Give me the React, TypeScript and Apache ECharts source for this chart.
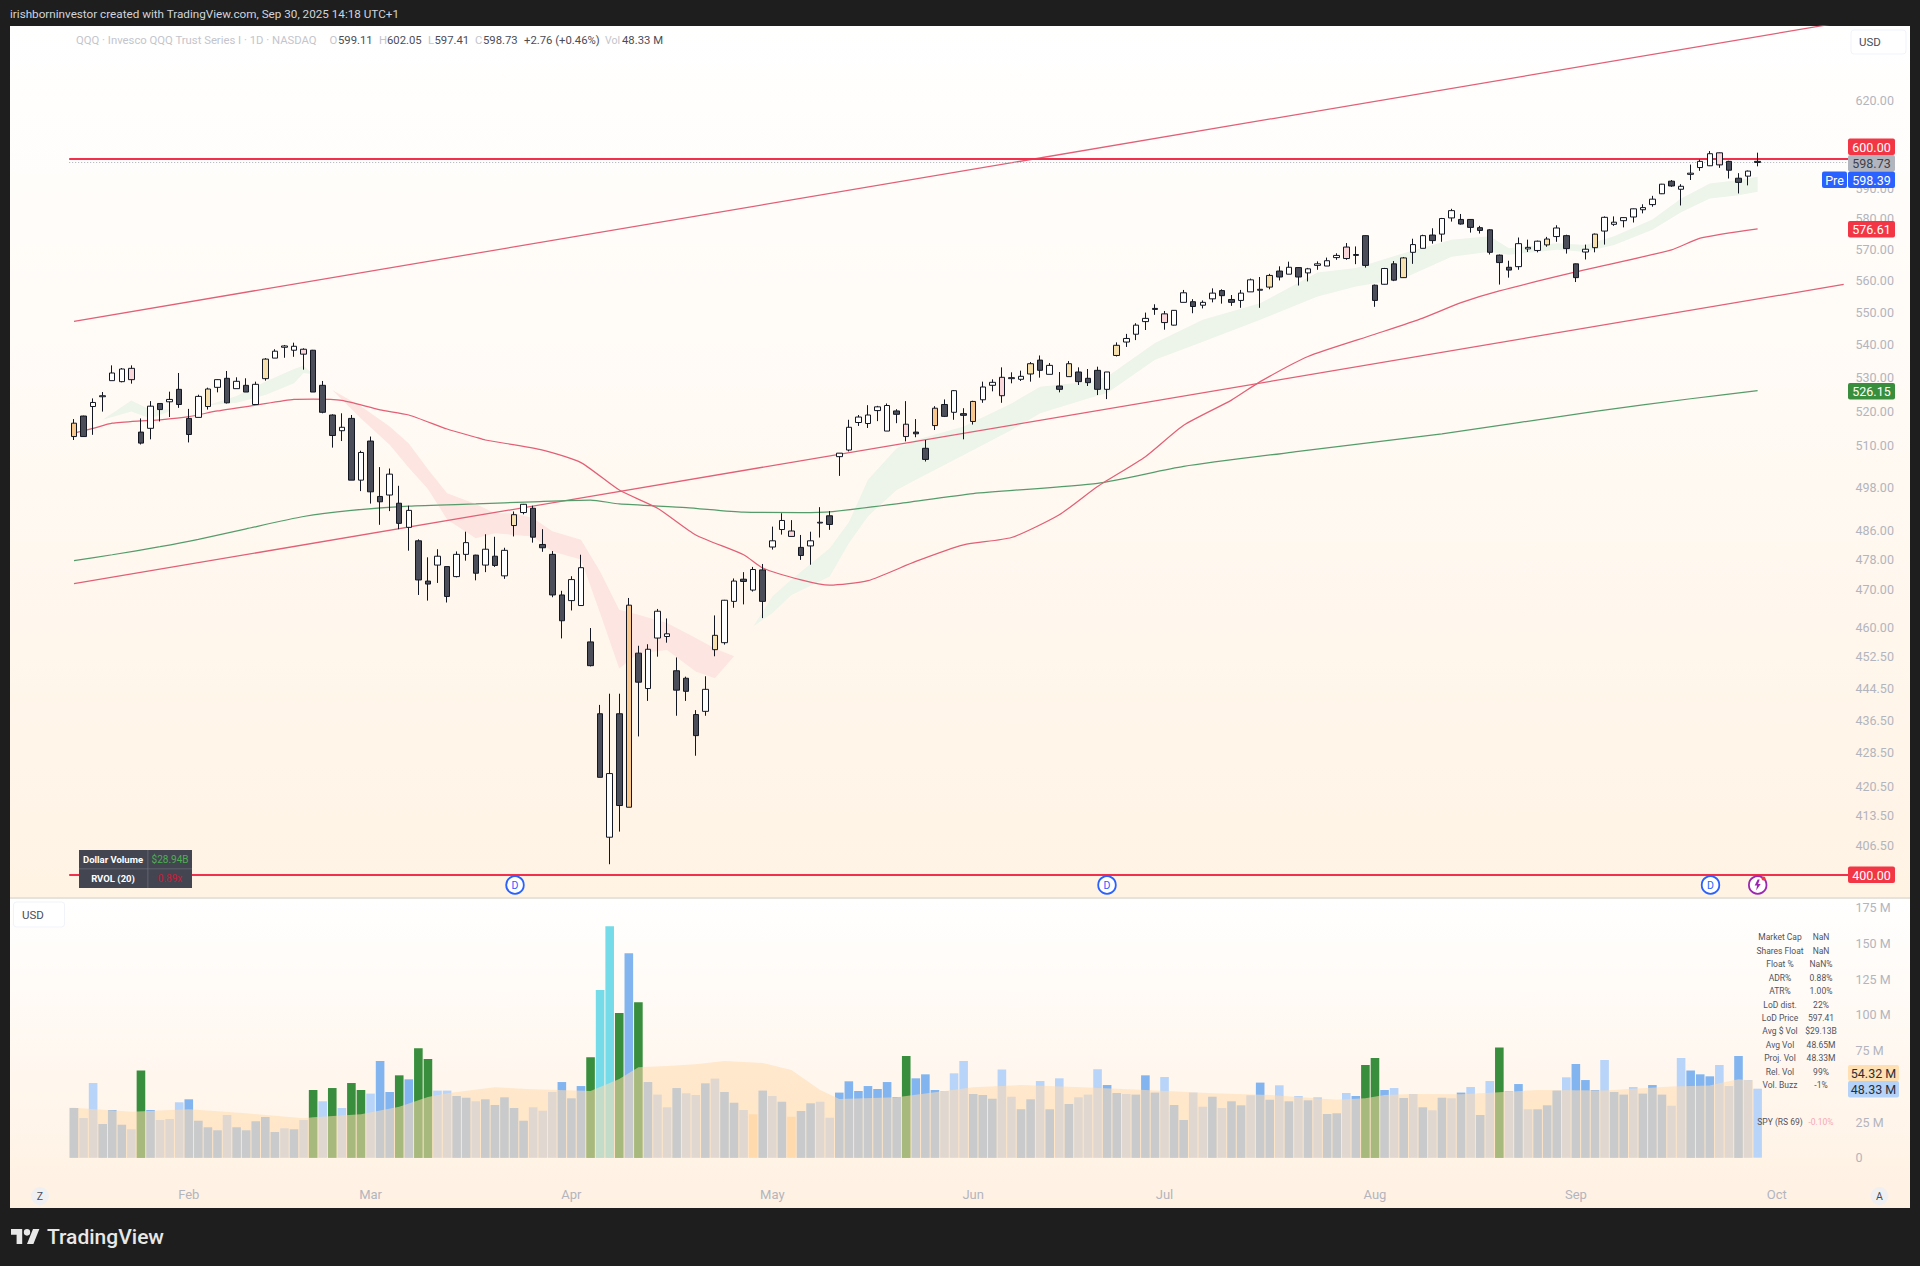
import React, { useEffect, useRef } from "react";
import * as echarts from "echarts";

const FONT = "Roboto";

const monthTicks: Record<number, string> = { 12: "Feb", 31: "Mar", 52: "Apr", 73: "May", 94: "Jun", 114: "Jul", 136: "Aug", 157: "Sep", 178: "Oct" };
const categoryCount = 186;
const categories = Array.from({ length: categoryCount }, (_, i) => String(i));

const priceTicks = [620, 590, 580, 570, 560, 550, 540, 530, 520, 510, 498, 486, 478, 470, 460, 452.5, 444.5, 436.5, 428.5, 420.5, 413.5, 406.5];
const volumeTicks = [0, 25, 75, 100, 125, 150, 175];

const opens = [512.6,518.6,521.4,524.3,529.1,528.8,529.4,513.9,515.0,522.3,
522.8,526.5,517.9,518.2,521.4,527.1,529.8,526.7,527.7,522.0,
529.7,535.9,539.2,538.3,537.1,538.3,527.7,518.9,514.3,517.9,
500.1,511.3,495.5,495.9,493.6,486.9,483.2,472.3,476.6,476.2,
473.5,479.5,479.3,476.6,479.0,473.7,487.4,491.0,492.2,482.2,
479.5,468.6,467.1,465.8,456.3,438.1,408.5,438.1,415.5,453.4,
444.4,457.3,457.7,448.9,447.0,437.9,438.7,454.3,456.1,466.9,
472.8,469.9,475.3,481.5,486.3,484.4,481.4,481.8,488.1,490.1,
506.8,508.7,516.7,516.4,520.2,514.2,520.1,512.6,513.9,509.2,
515.8,522.0,519.7,518.8,517.0,523.4,527.7,524.6,529.7,529.5,
531.1,535.3,531.0,527.5,530.3,531.7,529.8,532.2,526.5,536.7,
540.8,543.2,547.1,550.9,546.8,546.0,553.1,553.3,552.2,554.2,
556.8,554.0,553.7,556.4,556.9,557.9,563.0,562.0,564.1,562.4,
564.8,564.6,567.3,567.0,568.0,574.4,558.5,558.8,565.3,560.9,
569.0,570.3,574.6,574.9,580.2,579.7,579.7,577.0,576.3,568.1,
564.2,564.4,570.1,569.6,571.4,574.1,574.4,565.3,569.1,570.5,
575.9,578.1,579.3,580.5,582.9,584.6,588.2,592.4,589.7,594.7,
597.0,597.6,597.9,599.1,593.4,594.1,599.11];

const closes = [516.5,512.6,522.6,524.6,531.4,532.6,532.8,510.7,521.5,520.5,
523.5,522.0,513.2,524.4,526.6,529.4,522.5,528.9,525.7,528.0,
535.6,538.0,539.6,539.5,538.6,525.7,519.7,512.9,515.3,500.1,
508.0,496.8,494.0,501.8,488.0,491.6,472.6,471.5,479.0,468.2,
479.5,482.7,474.4,480.9,476.5,480.6,490.4,493.3,484.2,481.3,
468.6,461.8,472.7,475.9,450.2,422.6,423.5,415.9,465.9,446.0,
454.4,464.3,458.4,444.0,443.7,432.7,444.2,458.0,467.2,472.3,
472.2,475.4,466.9,483.2,488.8,485.9,479.2,483.2,488.3,487.7,
507.8,515.3,518.3,518.9,521.3,521.7,519.1,516.2,513.4,506.0,
520.9,518.5,526.1,519.3,522.9,527.2,528.6,530.1,530.0,530.4,
534.2,532.2,533.7,526.5,534.2,528.8,528.5,526.5,531.7,539.8,
541.9,546.0,548.1,551.2,549.5,550.6,556.1,551.8,553.1,556.0,
555.2,553.1,556.0,560.2,557.2,561.6,561.1,564.2,561.1,563.7,
565.3,566.3,568.0,570.7,568.3,564.8,553.7,563.8,560.1,567.2,
571.5,574.4,572.8,580.0,582.6,578.2,577.1,576.1,569.0,565.7,
563.3,571.8,570.6,572.6,573.3,576.9,570.2,560.9,570.0,574.9,
580.4,578.8,580.3,583.2,583.6,586.4,591.4,590.8,590.7,595.1,
599.1,601.7,602.0,596.1,592.0,595.8,598.73];

const lows = [511.6,512.6,513.1,519.9,529.1,528.6,528.2,510.3,511.8,517.0,
518.3,521.0,510.9,518.2,520.5,525.6,522.3,526.7,525.7,522.0,
529.1,535.9,536.0,536.3,532.4,525.7,519.4,509.4,511.3,500.1,
497.0,493.5,487.6,491.4,486.4,480.5,468.6,467.1,471.8,466.6,
473.3,477.8,472.5,474.7,476.1,472.9,484.4,490.5,482.7,480.2,
468.0,457.2,464.5,465.8,450.0,422.6,402.3,409.8,415.5,432.5,
441.3,452.5,456.1,437.6,441.3,427.8,437.6,452.6,455.6,465.2,
466.1,469.5,462.5,480.8,484.9,484.3,478.0,476.7,484.1,486.2,
501.3,508.3,515.7,515.1,517.1,514.2,516.5,511.2,512.4,505.4,
514.5,518.3,517.5,511.8,516.1,522.5,525.9,522.5,528.3,529.0,
528.8,530.0,531.0,525.6,530.3,527.8,527.5,524.8,523.6,536.4,
539.3,541.4,544.5,549.2,544.6,545.9,553.1,549.7,551.2,553.1,
552.7,552.0,551.4,556.4,551.4,557.2,560.0,562.0,558.4,559.7,
563.4,564.6,566.6,566.6,565.2,564.1,551.7,558.7,559.8,560.8,
565.3,570.3,571.8,572.4,579.0,578.0,575.4,575.1,568.3,558.7,
560.9,563.4,569.1,569.0,570.8,572.4,568.6,559.5,566.7,569.0,
571.5,577.6,577.1,578.7,581.7,583.9,588.1,590.5,584.3,592.8,
595.9,597.5,596.9,593.3,588.3,591.0,597.41];

const highs = [517.7,518.7,523.8,525.7,533.7,532.9,533.7,517.9,523.0,522.3,
525.8,531.4,520.7,524.9,527.0,529.5,532.0,530.1,529.8,528.8,
535.9,538.6,539.9,540.6,538.9,538.4,529.0,519.1,519.4,518.9,
508.5,512.6,503.8,503.4,498.5,492.9,483.6,478.7,480.9,476.2,
480.3,485.7,479.4,485.0,484.3,481.3,491.3,493.4,492.9,486.4,
480.4,469.7,473.6,479.4,459.9,440.3,443.1,443.1,467.8,455.3,
455.7,464.9,462.4,452.3,447.4,439.0,447.5,463.2,467.3,473.0,
474.7,476.1,476.9,487.1,490.8,488.9,484.8,485.7,492.5,491.4,
507.8,517.5,518.9,521.8,521.6,522.3,520.6,523.0,517.7,511.6,
521.5,523.5,526.3,520.9,523.1,528.8,529.5,533.1,531.6,532.1,
534.7,536.7,534.4,531.7,535.0,533.1,532.6,533.3,531.7,540.7,
543.3,546.6,549.9,552.5,550.4,550.7,557.0,554.1,553.7,557.5,
557.2,555.4,557.0,560.6,561.1,562.1,564.5,566.0,564.2,564.0,
566.1,567.3,568.7,572.0,570.9,574.5,558.7,564.0,566.2,567.5,
573.4,574.7,576.8,580.2,583.2,581.5,579.8,577.6,576.5,568.3,
566.3,573.8,573.1,572.8,574.0,577.8,574.7,565.4,571.5,575.1,
580.7,580.7,580.4,583.3,584.7,587.5,591.5,592.8,591.4,598.0,
599.7,602.6,602.1,599.3,595.1,596.0,602.05];

const candleKinds = ["ODWWWWPDWD","WDDWTWDWDW","TWWWPDDDWD","WDDWDWDDWD","WWDWDWTWDD","DDWWDDWDOD","WWWDDDWTWW","DWDWWPDWWD","WWWWWWDPDD","ODWDOWWPWW","TDWDTDDDWT","WWWDPWWDWW","DDWWWTDWDW","WWWPWDDWDT","WWDWWDDDDD","DWWWTWDDWT","WWWWWWWDWW","WWPDDWD"].join("");

const volumes = [34.8,27.8,52.3,23.6,33.4,23.1,19.9,61.0,33.4,26.4,
27.1,38.8,40.9,25.9,21.3,19.2,29.9,21.3,19.2,25.5,
28.5,18.0,20.6,19.9,26.4,47.4,39.5,48.8,34.8,52.3,
47.4,44.9,67.7,46.0,57.7,54.9,76.6,69.1,47.0,47.0,
43.2,42.0,39.5,40.9,36.9,42.3,34.8,25.9,35.3,32.9,
46.0,53.0,41.6,50.2,70.3,117.5,162.1,101.4,143.2,108.9,
53.0,44.2,35.3,48.8,45.1,43.9,52.1,55.4,46.0,38.5,
33.4,30.4,47.0,43.2,39.2,28.7,32.7,38.1,39.2,28.0,
45.6,53.5,46.7,50.2,48.1,53.0,42.5,71.2,55.6,58.4,
47.4,46.7,59.1,67.7,44.6,43.9,41.3,61.7,42.7,33.9,
40.9,53.7,33.9,55.6,37.6,42.3,44.2,61.9,50.9,45.3,
44.6,44.2,57.7,45.6,56.5,36.9,26.4,45.6,35.7,42.7,
34.8,39.5,36.7,43.7,52.6,40.6,50.7,39.5,43.2,40.2,
42.3,30.6,31.1,45.3,43.2,64.9,69.8,47.4,48.8,41.8,
44.6,35.3,33.2,42.0,41.6,45.6,49.5,29.9,53.7,77.1,
46.7,51.6,33.9,33.9,36.7,47.0,56.3,65.6,54.4,47.4,
68.4,46.0,44.2,49.5,44.9,50.9,44.2,36.4,69.8,61.0,
58.4,57.0,64.9,50.2,71.2,54.4,48.33];

const volumeKinds = ["BLLBBBLGBL","LLBBBBLBBB","BBLBLGLGLG","GLBBGBGGLL","BBLBBBBBLL","LBBBGCCGBG","BLLBLLBLBB","LOBLBOBBLL","BBBBBBBGBB","BLLLBBBLLB","BLBLBLLLBB","LBBBLBBLLB","LBBLBBLBLB","LBBLBGGBLB","LBLBLBLBLG","LBLBBBLBBB","LBBLBBBLLB","BBLLBLL"].join("");

const volMaIdx = [0,6,12,18,24,25,30,34,37,39,44,48,54,57,59,62,65,68,72,75,78,80,86,91,94,99,106,112,119,125,132,135,137,140,145,149,153,160,167,171,172,174,175];
const volMaVals = [35.0,32.2,33.9,31.1,27.6,28.3,30.4,35.7,42.5,45.1,49.3,47.9,46.7,55.1,63.3,64.2,65.4,67.7,66.3,61.4,47.4,41.1,42.3,46.7,49.3,50.9,49.1,47.4,45.1,43.9,40.6,41.6,43.9,44.6,44.4,45.8,47.4,47.0,49.8,50.5,52.1,54.9,54.32];

const redMaPoints = [[0,513.6],[2,515.0],[4,516.5],[7,517.2],[9,517.5],[12,518.4],[15,520.1],[19,521.8],[23,523.5],[25,523.6],[28,523.2],[32,520.4],[35,518.9],[39,514.8],[42,512.4],[43,511.6],[49,508.7],[53,505.1],[57,497.3],[61,492.2],[65,484.8],[70,479.4],[72,475.8],[76,472.6],[79,471.2],[83,472.4],[88,477.6],[93,482.1],[98,484.1],[103,490.4],[107,498.3],[112,506.8],[116,515.9],[121,523.3],[124,528.8],[129,536.4],[136,543.2],[141,548.2],[145,553.0],[149,556.7],[157,562.7],[167,569.8],[170,573.6],[176,576.61]];

const greenMaPoints = [[0,477.8],[4,479.4],[9,481.6],[13,483.6],[18,486.5],[24,489.9],[29,491.6],[35,492.8],[42,493.4],[48,494.0],[54,494.5],[57,493.4],[64,492.4],[70,491.1],[76,491.0],[79,491.2],[86,493.4],[94,496.3],[107,499.2],[116,504.0],[128,508.3],[143,513.4],[159,520.0],[169,523.7],[176,526.15]];

const trendHigh = [[0,547.2],[185,648.3]];
const trendLow = [[0,471.6],[185,558.75]];

// [bar, lower, upper]
const ribbonGreenA = [[3,517.5,517.5],[6,519.9,523.2],[8,517.9,520.4],[10,520.0,520.5]];
const ribbonGreenB = [[14,521.8,521.8],[17,522.5,524.5],[20,524.8,528.8],[23,528.3,532.6],[24,531.4,533.6],[25,531.0,531.0]];
const ribbonRed = [[27,526.3,526.3],[30,517.9,521.5],[33,510.2,515.5],[35,503.6,510.6],[37,497.6,503.2],[39,489.1,496.4],[42,483.9,493.4],[44,485.3,490.8],[46,484.8,490.8],[48,484.4,489.4],[50,480.3,485.8],[53,478.1,483.5],[55,463.8,474.9],[57,449.5,464.7],[59,453.4,463.4],[62,454.2,461.2],[65,448.7,457.3],[67,447.0,454.6],[69,452.6,452.6]];
const ribbonGreenC = [[69,452.6,452.6],[71,460.3,460.3],[73,463.8,468.2],[75,468.6,472.7],[79,473.5,481.2],[81,482.5,488.3],[83,490.0,500.2],[86,497.3,509.2],[88,500.2,511.6],[93,507.3,515.5],[98,514.5,522.3],[101,519.4,527.3],[106,523.8,528.8],[108,525.4,530.3],[113,535.4,540.5],[118,540.9,547.7],[124,547.7,552.8],[130,554.9,562.5],[134,558.1,564.0],[139,560.7,568.7],[144,567.6,573.1],[148,569.2,574.2],[150,568.2,570.3],[155,569.8,571.9],[158,569.2,571.4],[161,571.4,574.2],[165,576.3,579.7],[168,582.1,586.6],[171,586.6,591.6],[174,587.7,592.8],[176,588.9,593.9]];

const statRows = [["Market Cap","NaN"],["Shares Float","NaN"],["Float %","NaN%"],["ADR%","0.88%"],["ATR%","1.00%"],["LoD dist.","22%"],["LoD Price","597.41"],["Avg $ Vol","$29.13B"],["Avg Vol","48.65M"],["Proj. Vol","48.33M"],["Rel. Vol","99%"],["Vol. Buzz","-1%"]];

const candleFill: Record<string, string> = { W: "#ffffff", D: "#4b4e59", O: "#f9c88f", T: "#f6e0ae", P: "#f8d6da" };
const volumeFill: Record<string, string> = { B: "#82b5f0", L: "#b8d4f8", G: "#388e3c", C: "#76dbe8", O: "#ffd9a8" };

const LOGO = "M14 22H7V11H0V4h14v18zM28 22h-8l7.5-18h8L28 22zM24 8a4 4 0 1 1-8 0 4 4 0 0 1 8 0z";
const BOLT = "M3 0L0 6h2.4L1.4 11 6 4.4H3.4L5 0z";
echarts.graphic.registerShape("tvlogo", (echarts.graphic as any).extendPath(LOGO, {}));
echarts.graphic.registerShape("bolt", (echarts.graphic as any).extendPath(BOLT, {}));

const text = (x: number, y: number, t: string, fill: string, size: number, extra: any = {}) => ({
  type: "text",
  x,
  y,
  z: extra.z ?? 110,
  silent: true,
  style: {
    text: t,
    fill,
    font: `${extra.weight ?? "normal"} ${size}px ${FONT}`,
    align: extra.align ?? "left",
    verticalAlign: "middle",
    textAlign: extra.align ?? "left",
    textVerticalAlign: "middle",
  },
});

const box = (x: number, y: number, w: number, h: number, fill: string, extra: any = {}) => ({
  type: "rect",
  z: extra.z ?? 100,
  silent: true,
  shape: { x, y, width: w, height: h, r: extra.r ?? 0 },
  style: { fill, stroke: extra.stroke, lineWidth: extra.lineWidth ?? 0 },
});

const tag = (y0: number, y1: number, label: string, bg: string, fg: string, x0 = 1848, x1 = 1895) => [
  box(x0, y0, x1 - x0, y1 - y0, bg, { r: 2 }),
  text((x0 + x1) / 2, (y0 + y1) / 2 + 0.5, label, fg, 12.5, { align: "center" }),
];

const ribbonRender = (points: number[][], fill: string) => (params: any, api: any) => {
  if (params.dataIndex !== 0) return undefined;
  const upper = points.map((p) => api.coord([p[0], p[2]]));
  const lower = points.map((p) => api.coord([p[0], p[1]])).reverse();
  return { type: "polygon", shape: { points: [...upper, ...lower] }, style: { fill }, silent: true };
};

const ribbonSeries = (points: number[][], fill: string) => ({
  type: "custom",
  xAxisIndex: 0,
  yAxisIndex: 0,
  z: 1,
  silent: true,
  renderItem: ribbonRender(points, fill),
  data: points.map((p) => [p[0], p[1], p[2]]),
  encode: { x: 0, y: [1, 2] },
});

const priceLine = (points: number[][], color: string, smooth = false) => ({
  type: "line",
  xAxisIndex: 0,
  yAxisIndex: 0,
  data: points,
  symbol: "none",
  smooth: smooth ? 0.2 : false,
  z: 3,
  silent: true,
  lineStyle: { color, width: 1.25 },
});

export default function App() {
  const ref = useRef<HTMLDivElement>(null);
  useEffect(() => {
    const chart = echarts.init(ref.current!, undefined, { renderer: "svg" });
    const gridLeft = 69.2;
    const gridWidth = 1779.3;

    const candleData = opens.map((o, i) => {
      const fill = candleFill[candleKinds[i]];
      return {
        value: [o, closes[i], lows[i], highs[i]],
        itemStyle: { color: fill, color0: fill, borderColor: "#131722", borderColor0: "#131722", borderWidth: 1 },
      };
    });
    const volumeData = volumes.map((v, i) => ({ value: v, itemStyle: { color: volumeFill[volumeKinds[i]] } }));

    const panelGraphics: any[] = [
      {
        type: "rect", z: -10, silent: true, shape: { x: 10, y: 26, width: 1900, height: 872 },
        style: { fill: new echarts.graphic.LinearGradient(0, 0, 0, 1, [{ offset: 0, color: "#ffffff" }, { offset: 0.45, color: "#fffaf4" }, { offset: 1, color: "#fff3e4" }]) },
      },
      {
        type: "rect", z: -10, silent: true, shape: { x: 10, y: 898, width: 1900, height: 310 },
        style: { fill: new echarts.graphic.LinearGradient(0, 0, 0, 1, [{ offset: 0, color: "#ffffff" }, { offset: 1, color: "#fff1e2" }]) },
      },
      box(10, 897, 1900, 2, "#e6e3df", { z: -9 }),
      // header
      text(10, 14, "irishborninvestor created with TradingView.com, Sep 30, 2025 14:18 UTC+1", "#d1d4dc", 11.7),
      // legend
      text(76, 40, "QQQ · Invesco QQQ Trust Series I · 1D · NASDAQ", "#c3c5cc", 11.3),
      text(329.5, 40, "O", "#c3c5cc", 11.3), text(338, 40, "599.11", "#4a4d57", 11.3),
      text(379, 40, "H", "#c3c5cc", 11.3), text(387, 40, "602.05", "#4a4d57", 11.3),
      text(428, 40, "L", "#c3c5cc", 11.3), text(434.5, 40, "597.41", "#4a4d57", 11.3),
      text(475, 40, "C", "#c3c5cc", 11.3), text(483, 40, "598.73", "#4a4d57", 11.3),
      text(524, 40, "+2.76 (+0.46%)", "#4a4d57", 11.3),
      text(605, 40, "Vol", "#c3c5cc", 10.5), text(622, 40, "48.33 M", "#4a4d57", 11.3),
      // usd boxes
      box(1851, 30, 55, 24, "#ffffff", { r: 3, stroke: "#f0f3fa", lineWidth: 1 }),
      text(1859, 42, "USD", "#4a4d57", 11.5),
      box(13.5, 902, 51, 25, "#ffffff", { r: 3, stroke: "#f0f3fa", lineWidth: 1 }),
      text(22, 915, "USD", "#4a4d57", 11.5),
      // price tags
      ...tag(138.5, 155, "600.00", "#f23645", "#ffffff"),
      ...tag(155, 171.5, "598.73", "#b2b5be", "#3c3f4a"),
      ...tag(171.5, 188, "Pre", "#2962ff", "#ffffff", 1822, 1847),
      ...tag(171.5, 188, "598.39", "#2962ff", "#ffffff"),
      ...tag(221, 237.5, "576.61", "#f23645", "#ffffff"),
      ...tag(383, 399.5, "526.15", "#388e3c", "#ffffff"),
      ...tag(866.5, 883, "400.00", "#f23645", "#ffffff"),
      ...tag(1065, 1081, "54.32 M", "#ffe0b2", "#2a2e39", 1848, 1899),
      ...tag(1081, 1097.5, "48.33 M", "#b5d3f8", "#2a2e39", 1848, 1899),
      // dollar volume table
      box(79, 850, 113, 38, "#434651"),
      box(79, 868.5, 113, 0.8, "#6a6d78", { z: 101 }),
      box(147.5, 850, 0.8, 38, "#6a6d78", { z: 101 }),
      text(113, 859.5, "Dollar Volume", "#ffffff", 9.5, { align: "center", weight: "bold" }),
      text(170, 859.5, "$28.94B", "#4caf50", 10, { align: "center" }),
      text(113, 878.5, "RVOL (20)", "#ffffff", 9.5, { align: "center", weight: "bold" }),
      text(170, 878.5, "0.89x", "#c2203a", 10, { align: "center" }),
      // stats
      ...statRows.flatMap((r, i) => [
        text(1780, 937.3 + i * 13.45, r[0], "#50535e", 8.5, { align: "center" }),
        text(1821, 937.3 + i * 13.45, r[1], "#50535e", 8.5, { align: "center" }),
      ]),
      text(1780, 1122, "SPY (RS 69)", "#50535e", 8.5, { align: "center" }),
      text(1821, 1122, "-0.10%", "#f7a8b4", 8.5, { align: "center" }),
      // markers
      ...[515, 1107, 1710.5].flatMap((x) => [
        { type: "circle", z: 100, silent: true, shape: { cx: x, cy: 885, r: 8.8 }, style: { fill: "#ffffff", stroke: "#2962ff", lineWidth: 1.8 } },
        text(x, 885.5, "D", "#2962ff", 10.5, { align: "center" }),
      ]),
      { type: "circle", z: 100, silent: true, shape: { cx: 1757.7, cy: 885, r: 8.8 }, style: { fill: "#ffffff", stroke: "#9c27b0", lineWidth: 1.8 } },
      { type: "bolt", z: 110, silent: true, x: 1754.7, y: 879.5, style: { fill: "#9c27b0" } },
      { type: "circle", z: 111, silent: true, shape: { cx: 1763.5, cy: 878.5, r: 2 }, style: { fill: "#f23645" } },
      // scale buttons
      { type: "circle", z: 100, silent: true, shape: { cx: 40, cy: 1196, r: 9 }, style: { fill: "#f0f0f2" } },
      text(40, 1196, "Z", "#4a4d57", 10.5, { align: "center" }),
      { type: "circle", z: 100, silent: true, shape: { cx: 1879.5, cy: 1196, r: 9 }, style: { fill: "#f0f0f2" } },
      text(1879.5, 1196, "A", "#4a4d57", 10.5, { align: "center" }),
      // logo
      { type: "tvlogo", z: 100, silent: true, x: 11, y: 1225.7, scaleX: 0.8, scaleY: 0.83, style: { fill: "#e8e8e8" } },
      text(47, 1237, "TradingView", "#e8e8e8", 21, { weight: 500 }),
    ];

    chart.setOption({
      animation: false,
      backgroundColor: "transparent",
      graphic: { elements: panelGraphics },
      grid: [
        { left: gridLeft, width: gridWidth, top: 26, height: 872, show: false },
        { left: gridLeft, width: gridWidth, top: 898, height: 259.7, show: false },
      ],
      xAxis: [
        { type: "category", gridIndex: 0, data: categories, boundaryGap: true, axisLine: { show: false }, axisTick: { show: false }, axisLabel: { show: false }, splitLine: { show: false } },
        {
          type: "category", gridIndex: 1, data: categories, boundaryGap: true,
          axisLine: { show: false }, axisTick: { show: false }, splitLine: { show: false },
          axisLabel: {
            show: true, margin: 30, color: "#b2b5be", fontFamily: FONT, fontSize: 13,
            interval: (i: number) => monthTicks[i] !== undefined,
            formatter: (_v: string, i: number) => monthTicks[i] ?? "",
          },
        },
      ],
      yAxis: [
        {
          type: "log", logBase: 10, gridIndex: 0, position: "right", min: 394.67, max: 646.85,
          axisLine: { show: false }, axisTick: { show: false }, splitLine: { show: false }, minorTick: { show: false }, minorSplitLine: { show: false },
          axisLabel: { show: true, customValues: priceTicks, margin: 7, color: "#b2b5be", fontFamily: FONT, fontSize: 12.5, formatter: (v: number) => Number(v).toFixed(2) },
        },
        {
          type: "value", gridIndex: 1, position: "right", min: 0, max: 181.9,
          axisLine: { show: false }, axisTick: { show: false }, splitLine: { show: false },
          axisLabel: { show: true, customValues: volumeTicks, margin: 7, color: "#b2b5be", fontFamily: FONT, fontSize: 12.5, formatter: (v: number) => (v === 0 ? "0" : `${v} M`) },
        },
      ],
      series: [
        ribbonSeries(ribbonGreenA, "#edf4e9"),
        ribbonSeries(ribbonGreenB, "#edf4e9"),
        ribbonSeries(ribbonRed, "#fde5e1"),
        ribbonSeries(ribbonGreenC, "#edf4e9"),
        priceLine(trendHigh, "#e25f75"),
        priceLine(trendLow, "#e25f75"),
        priceLine(greenMaPoints, "#569c6b", true),
        priceLine(redMaPoints, "#e25f75", true),
        {
          type: "line", xAxisIndex: 0, yAxisIndex: 0, data: [], symbol: "none", silent: true, z: 4,
          markLine: {
            silent: true, symbol: "none", animation: false, label: { show: false },
            data: [
              { yAxis: 598.73, lineStyle: { color: "#a9adb8", width: 1, type: [1, 2] } },
              { yAxis: 600, lineStyle: { color: "#f0304c", width: 2, type: "solid" } },
              { yAxis: 400, lineStyle: { color: "#f0304c", width: 2, type: "solid" } },
            ],
          },
        },
        { type: "candlestick", xAxisIndex: 0, yAxisIndex: 0, data: candleData, barWidth: 6, z: 5, silent: true },
        { type: "bar", xAxisIndex: 1, yAxisIndex: 1, data: volumeData, barWidth: 8.6, z: 2, silent: true },
        {
          type: "custom", xAxisIndex: 1, yAxisIndex: 1, z: 3, silent: true,
          data: volMaIdx.map((x, k) => [x, volMaVals[k]]),
          encode: { x: 0, y: 1 },
          renderItem: (params: any, api: any) => {
            if (params.dataIndex !== 0) return undefined;
            const half = api.size([1, 0])[0] / 2;
            const top = volMaIdx.map((x, k) => api.coord([x, volMaVals[k]]));
            const base = api.coord([0, 0])[1];
            const first = top[0];
            const last = top[top.length - 1];
            return {
              type: "polygon",
              silent: true,
              shape: { points: [[first[0] - half, base], [first[0] - half, first[1]], ...top, [last[0] + half, last[1]], [last[0] + half, base]] },
              style: { fill: "rgba(255,220,176,0.56)" },
            };
          },
        },
      ],
    });
    return () => chart.dispose();
  }, []);
  return (
    <div style={{ position: "fixed", left: 0, top: 0, width: 1920, height: 1266, background: "#1e1e1e" }}>
      <div ref={ref} style={{ width: 1920, height: 1266 }} />
    </div>
  );
}
